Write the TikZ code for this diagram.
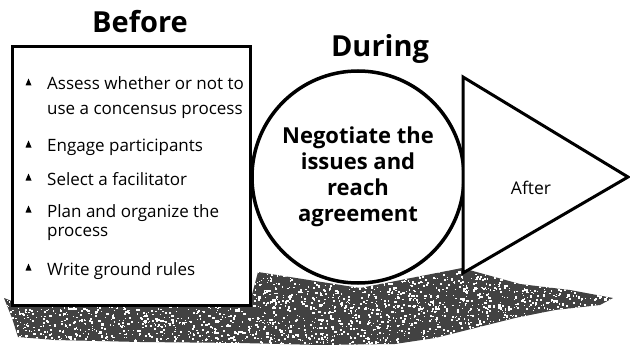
\documentclass[tikz,border=0pt]{standalone}
\usepackage{fontspec}
\setmainfont{Open Sans}
\usetikzlibrary{positioning}

\begin{document}
\begin{tikzpicture}[
    x=1pt, y=-1pt,
    heading/.style={inner sep=0pt, anchor=base, font=\fontsize{29}{32}\selectfont\bfseries},
    item/.style={inner sep=0pt, anchor=base west, font=\fontsize{17}{19}\selectfont},
    stage/.style={draw=black, line width=3pt, fill=white},
    bullet/.style={fill=black},
    grain/.style={fill=black!74},
]
\useasboundingbox (0,0) rectangle (630,345);

% Speckled ground shadow under the three stages.
\begin{scope}
  \clip (4,298) -- (22,305) -- (250,302) -- (258,272) -- (360,288) -- (462,268)
        -- (520,284) -- (570,290) -- (613,298) -- (600,305) -- (555,310)
        -- (515,318) -- (475,328) -- (435,338) -- (395,344) -- (320,345)
        -- (240,343) -- (140,342) -- (55,340) -- (18,337) -- (12,318) -- cycle;
  \fill[grain] (0,260) rectangle (630,345);
  \pgfmathsetseed{17}
  \foreach \i in {1,...,3200} {
    \pgfmathsetmacro\sx{630*rnd}
    \pgfmathsetmacro\sy{262+83*rnd}
    \pgfmathsetmacro\sd{0.8+1.6*rnd}
    \fill[white] (\sx,\sy) rectangle ++(\sd,\sd);
  }
\end{scope}

% Before: checklist box.
\node[stage, rectangle, minimum width=238pt, minimum height=258pt] (before) at (131,176) {};
\node[heading] (beforetitle) at (140,33) {Before};
\foreach \y/\txt in {90/{Assess whether or not to},
                     152/{Engage participants},
                     185/{Select a facilitator},
                     217/{Plan and organize the},
                     275/{Write ground rules}} {
  \fill[bullet] (25.5,\y-4.5) -- (31.5,\y-4.5) -- (28.5,\y-11.5) -- cycle;
  \node[item] at (47,\y) {\txt};
}
\node[item] (cont1) at (47,115) {use a concensus process};
\node[item] (cont2) at (47,236) {process};

% During: circle.
\node[stage, circle, line width=3.5pt, minimum size=212pt, inner sep=0pt, align=center,
      font=\fontsize{22}{26}\selectfont\bfseries] (during) at (358,177)
      {Negotiate the\\issues and\\reach\\agreement};
\node[heading] (duringtitle) at (380,57) {During};

% After: triangle.
\coordinate (atop) at (463,77);
\coordinate (abot) at (463,273);
\coordinate (atip) at (628,177);
\draw[stage, line join=miter] (atop) -- (atip) -- (abot) -- cycle;
\node[inner sep=0pt, anchor=base, font=\fontsize{17.5}{20}\selectfont] (after) at (531,194) {After};
\end{tikzpicture}
\end{document}
